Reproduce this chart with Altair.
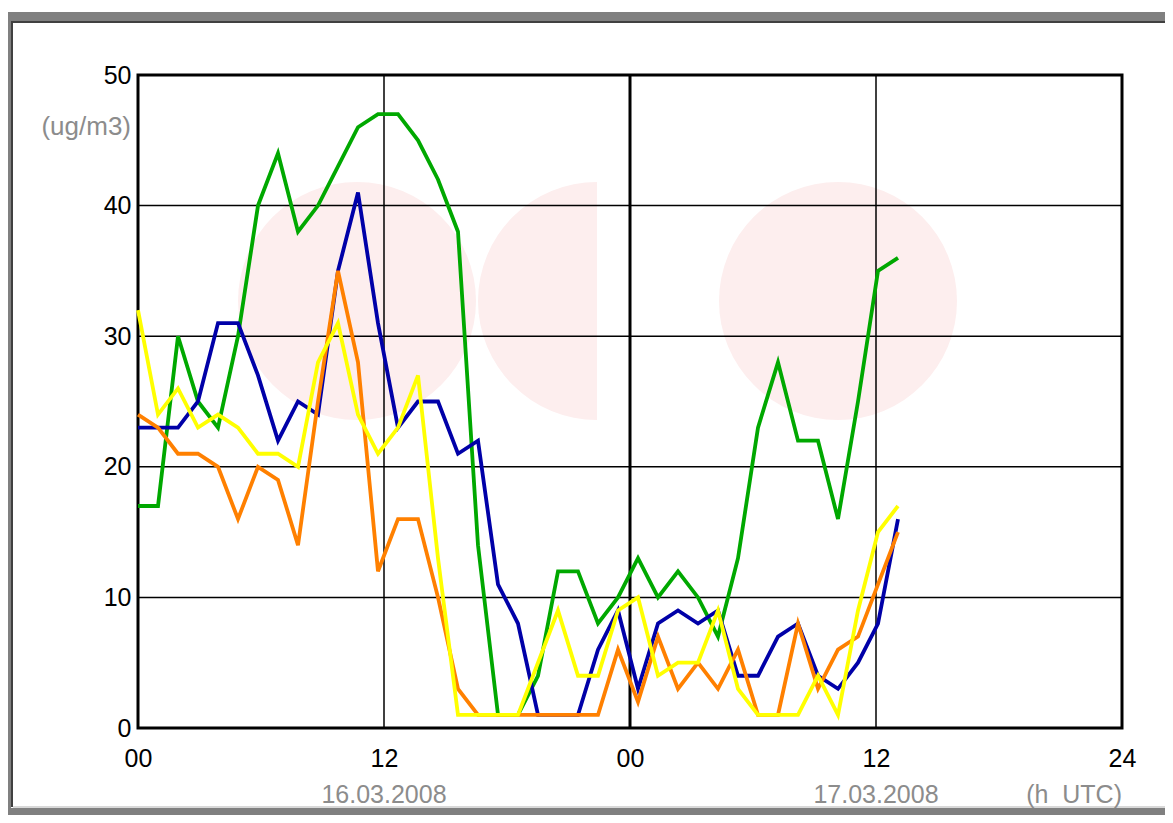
import altair as alt
import pandas as pd

# hourly readings, index 0 = 00 h on 16.03.2008
STEPS = list(range(39))
GREEN = [17, 17, 30, 25, 23, 30, 40, 44, 38, 40, 43, 46, 47, 47, 45, 42, 38, 14, 1, 1,
         4, 12, 12, 8, 10, 13, 10, 12, 10, 7, 13, 23, 28, 22, 22, 16, 25, 35, 36]
BLUE = [23, 23, 23, 25, 31, 31, 27, 22, 25, 24, 35, 41, 31, 23, 25, 25, 21, 22, 11, 8,
        1, 1, 1, 6, 9, 3, 8, 9, 8, 9, 4, 4, 7, 8, 4, 3, 5, 8, 16]
ORANGE = [24, 23, 21, 21, 20, 16, 20, 19, 14, 25, 35, 28, 12, 16, 16, 10, 3, 1, 1, 1,
          1, 1, 1, 1, 6, 2, 7, 3, 5, 3, 6, 1, 1, 8, 3, 6, 7, 11, 15]
YELLOW = [32, 24, 26, 23, 24, 23, 21, 21, 20, 28, 31, 24, 21, 23, 27, 13, 1, 1, 1, 1,
          5, 9, 4, 4, 9, 10, 4, 5, 5, 9, 3, 1, 1, 1, 4, 1, 9, 15, 17]

SERIES = [("green", GREEN, "#00a800"), ("blue", BLUE, "#0000a8"),
          ("orange", ORANGE, "#ff8000"), ("yellow", YELLOW, "#ffff00")]

Y_TICKS = [0, 10, 20, 30, 40, 50]
HOUR_TICKS = [0, 12, 24, 36, 48]
X_TICK_LABELS = ["00", "12", "00", "12", "24"]
DATE_HOURS = [12, 36]
DATE_LABELS = ["16.03.2008", "17.03.2008"]
UNIT_LABEL = "(ug/m3)"
TIME_LABEL = "(h\u00a0\u00a0UTC)"

# faint background logo (watermark): centres in slot / value units
LOGO_DISC_X = [10.95, 35.0]
LOGO_DISC_Y = [32.7, 32.7]
LOGO_HALF_X = [22.95]
LOGO_HALF_Y = [32.7]
LOGO_R = 119

SLOTS = 49.2          # sample slots spanned by the 48 h axis
PER_HOUR = SLOTS / 48.0

W, H = 984, 653
FONT = "Liberation Sans"
GRAY_TXT = "#8c8c8c"
PINK = "#fdeeee"

x_ticks = [h * PER_HOUR for h in HOUR_TICKS]
label_expr = "[" + ",".join("'%s'" % s for s in X_TICK_LABELS) + "][round(datum.value / %f)]" % (12 * PER_HOUR)

xscale = alt.Scale(domain=[0, SLOTS], nice=False, zero=False)
yscale = alt.Scale(domain=[0, 50], nice=False, zero=True)

AX = alt.Axis(values=x_ticks, labelExpr=label_expr, grid=False, title=None,
              domain=False, ticks=False, labelPadding=18, labelFlush=False,
              labelFont=FONT, labelFontSize=25, labelColor="#000000")
AY = alt.Axis(values=Y_TICKS, grid=False, title=None, domain=False, ticks=False,
              labelPadding=7, labelFont=FONT, labelFontSize=25, labelFlush=False,
              labelColor="#000000")


# frame decoration
def band(x1, x2, y1, y2, color):
    return alt.Chart(pd.DataFrame({"k": [0]})).mark_rect(color=color).encode(
        x=alt.value(x1), x2=alt.value(x2), y=alt.value(y1), y2=alt.value(y2))


frame = (band(-130, 1030, -63, -54, "#808080") + band(-126, 1030, -54, -52, "#404040") +
         band(-130, -127, -63, 740, "#808080") + band(-127, -125, -54, 732, "#404040") +
         band(-125, 1030, 731, 733, "#d8d8d8") + band(-130, 1030, 733, 740, "#808080"))

discs = alt.Chart(pd.DataFrame({"x": LOGO_DISC_X, "y": LOGO_DISC_Y})).mark_circle(
    color=PINK, opacity=1, size=(2 * LOGO_R) ** 2).encode(
    x=alt.X("x:Q", scale=xscale, axis=AX), y=alt.Y("y:Q", scale=yscale, axis=AY))

half = alt.Chart(pd.DataFrame({"x": LOGO_HALF_X, "y": LOGO_HALF_Y})).mark_arc(
    color=PINK, opacity=1, radius=LOGO_R, theta=3.14159, theta2=6.28318).encode(
    x=alt.X("x:Q", scale=xscale, axis=AX), y=alt.Y("y:Q", scale=yscale, axis=AY))

hgrid = alt.Chart(pd.DataFrame({"v": Y_TICKS[1:-1]})).mark_rule(
    color="#000000", strokeWidth=1.5).encode(y=alt.Y("v:Q", scale=yscale, axis=AY))

vgrid = alt.Chart(pd.DataFrame({"h": [x_ticks[1], x_ticks[3]]})).mark_rule(
    color="#000000", strokeWidth=1.5).encode(x=alt.X("h:Q", scale=xscale, axis=AX))

mid_rule = alt.Chart(pd.DataFrame({"h": [x_ticks[2]]})).mark_rule(
    color="#000000", strokeWidth=3).encode(x=alt.X("h:Q", scale=xscale, axis=AX))

lines = []
for name, vals, col in SERIES:
    df = pd.DataFrame({"step": STEPS, "value": vals})
    lines.append(alt.Chart(df).mark_line(color=col, strokeWidth=3.8, strokeJoin="miter").encode(
        x=alt.X("step:Q", scale=xscale, axis=AX),
        y=alt.Y("value:Q", scale=yscale, axis=AY)))

dates = alt.Chart(pd.DataFrame({"h": [h * PER_HOUR for h in DATE_HOURS], "t": DATE_LABELS})).mark_text(
    font=FONT, fontSize=25, color=GRAY_TXT, baseline="middle", align="center").encode(
    x=alt.X("h:Q", scale=xscale, axis=AX), y=alt.value(720), text="t:N")

time_lbl = alt.Chart(pd.DataFrame({"t": [TIME_LABEL]})).mark_text(
    font=FONT, fontSize=25, color=GRAY_TXT, baseline="middle", align="right").encode(
    x=alt.value(W), y=alt.value(720), text="t:N")

unit_lbl = alt.Chart(pd.DataFrame({"t": [UNIT_LABEL]})).mark_text(
    font=FONT, fontSize=26, color=GRAY_TXT, baseline="middle", align="right").encode(
    x=alt.value(-7), y=alt.value(52), text="t:N")

chart = alt.layer(frame, discs, half, hgrid, vgrid, mid_rule, *lines,
                  dates, time_lbl, unit_lbl).properties(
    width=W, height=H,
    autosize=alt.AutoSizeParams(type="none"),
    padding={"left": 130, "top": 67, "right": 43, "bottom": 87},
    background="#ffffff"
).configure_view(stroke="#000000", strokeWidth=3)

chart.save("out.html", embed_options={"renderer": "svg", "actions": False})
